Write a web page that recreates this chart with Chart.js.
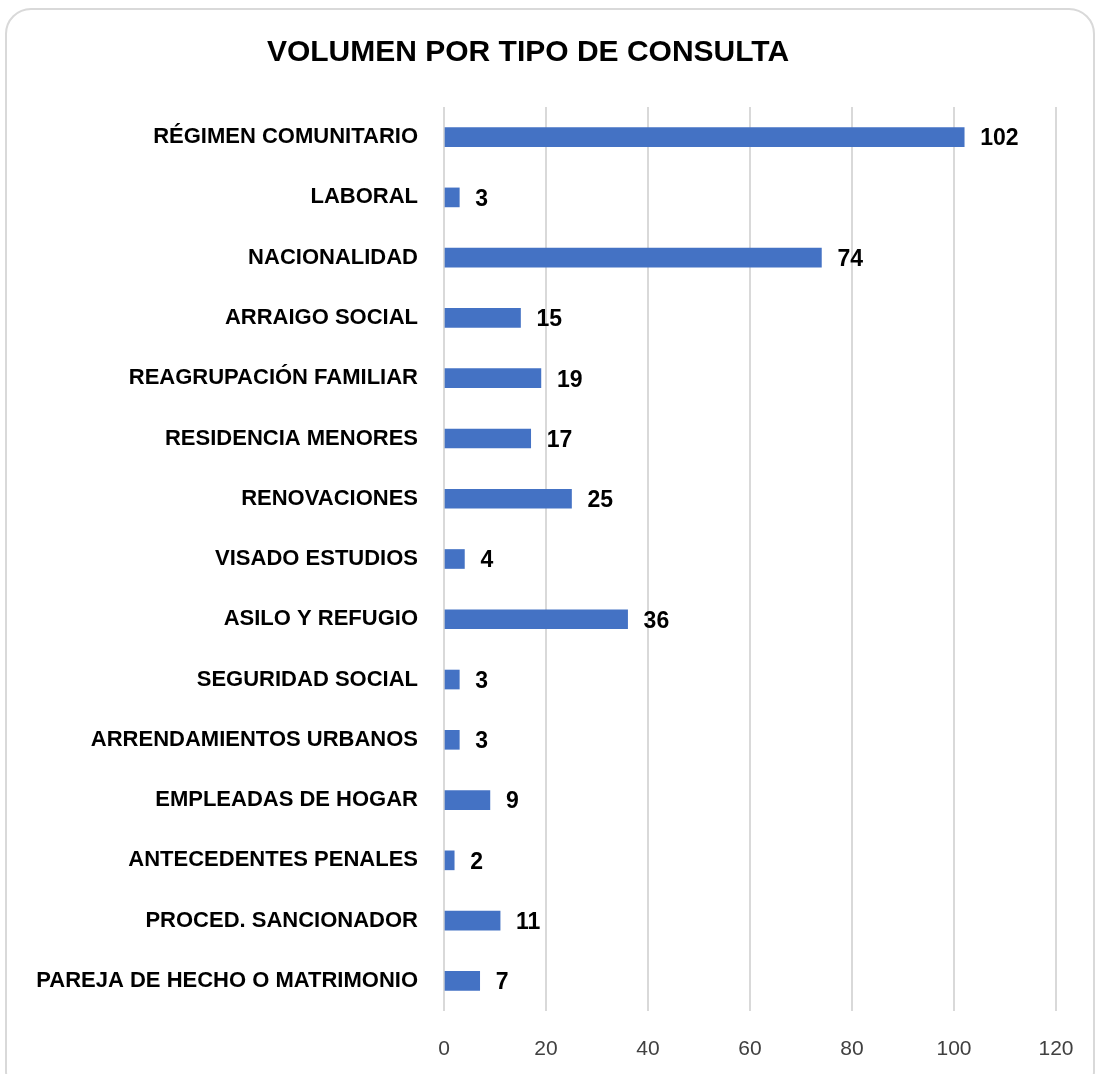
<html>
<head>
<meta charset="utf-8">
<style>
  body { margin: 0; background: #fff; }
  #frame { position: absolute; left: 5px; top: 8px; width: 1090px; height: 1090px;
           border: 2px solid #d9d9d9; border-radius: 26px; box-sizing: border-box; }
  #wrap { position: absolute; left: 0; top: 0; width: 1100px; height: 1074px; }
</style>
</head>
<body>
<div id="frame"></div>
<div id="wrap"><canvas id="myChart"></canvas></div>
<script src="https://cdn.jsdelivr.net/npm/chart.js@4.4.1/dist/chart.umd.min.js"></script>
<script>
const categories = [
  "RÉGIMEN COMUNITARIO", "LABORAL", "NACIONALIDAD", "ARRAIGO SOCIAL",
  "REAGRUPACIÓN FAMILIAR", "RESIDENCIA MENORES", "RENOVACIONES", "VISADO ESTUDIOS",
  "ASILO Y REFUGIO", "SEGURIDAD SOCIAL", "ARRENDAMIENTOS URBANOS", "EMPLEADAS DE HOGAR",
  "ANTECEDENTES PENALES", "PROCED. SANCIONADOR", "PAREJA DE HECHO O MATRIMONIO"
];
const values = [102, 3, 74, 15, 19, 17, 25, 4, 36, 3, 3, 9, 2, 11, 7];
const xTicks = [0, 20, 40, 60, 80, 100, 120];

const fontFam = "'Liberation Sans', Arial, sans-serif";

// value labels at the end of each bar
const barLabels = {
  id: "barLabels",
  afterDatasetsDraw(chart) {
    const ctx = chart.ctx;
    const meta = chart.getDatasetMeta(0);
    ctx.save();
    ctx.font = "bold 23px " + fontFam;
    ctx.fillStyle = "#000";
    ctx.textAlign = "left";
    ctx.textBaseline = "middle";
    meta.data.forEach((bar, i) => {
      ctx.fillText(values[i], bar.x + 16, bar.y + 2);
    });
    ctx.restore();
  }
};

new Chart("myChart", {
  type: "bar",
  data: {
    labels: categories,
    datasets: [{
      data: values,
      backgroundColor: "#4472C4",
      barThickness: 19
    }]
  },
  options: {
    indexAxis: "y",
    responsive: true,
    maintainAspectRatio: false,
    animation: false,
    layout: { padding: { left: 0, right: 44, top: 0, bottom: 0 } },
    plugins: {
      legend: { display: false },
      tooltip: { enabled: false },
      title: {
        display: true,
        text: "VOLUMEN POR TIPO DE CONSULTA",
        color: "#000",
        font: { family: fontFam, size: 30, weight: "bold" },
        padding: { top: 35, bottom: 36 }
      }
    },
    scales: {
      x: {
        min: 0,
        max: 120,
        afterBuildTicks(scale) { scale.ticks = xTicks.map(v => ({ value: v })); },
        afterFit(scale) { scale.height = 63; },
        grid: { color: "#d9d9d9", lineWidth: 2, drawTicks: false },
        border: { display: false },
        ticks: {
          color: "#404040",
          padding: 26,
          font: { family: fontFam, size: 21 }
        }
      },
      y: {
        afterFit(scale) { scale.width = 444; },
        grid: { display: false, drawTicks: false },
        border: { display: false },
        ticks: {
          color: "#000",
          padding: 26,
          font: { family: fontFam, size: 22, weight: "bold" }
        }
      }
    }
  },
  plugins: [barLabels]
});
</script>
</body>
</html>
